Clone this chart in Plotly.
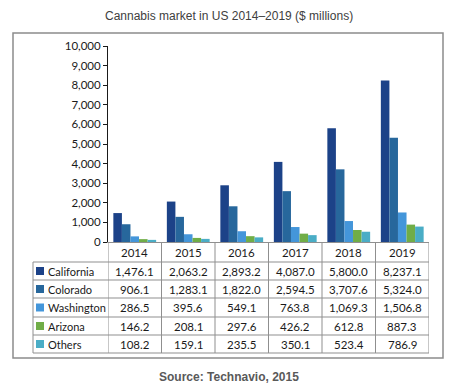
import plotly.graph_objects as go

W, H = 458, 392
years = ["2014", "2015", "2016", "2017", "2018", "2019"]
series_names = ["California", "Colorado", "Washington", "Arizona", "Others"]
california = [1476.1, 2063.2, 2893.2, 4087.0, 5800.0, 8237.1]
colorado = [906.1, 1283.1, 1822.0, 2594.5, 3707.6, 5324.0]
washington = [286.5, 395.6, 549.1, 763.8, 1069.3, 1506.8]
arizona = [146.2, 208.1, 297.6, 426.2, 612.8, 887.3]
others = [108.2, 159.1, 235.5, 350.1, 523.4, 786.9]
series_values = [california, colorado, washington, arizona, others]
colors = ["#1c4288", "#27679c", "#4496da", "#70ad47", "#4aadc6"]
y_ticks = list(range(0, 10001, 1000))

def px(x):
    return x / W

def py(y):
    return 1 - y / H

fig = go.Figure()
for name, vals, c in zip(series_names, series_values, colors):
    fig.add_trace(go.Bar(x=list(range(len(years))), y=vals, name=name, marker_color=c,
                         marker_line_width=0))

font = "Lato"
grid = "#8f8f8f"
shapes = []
annotations = []

# outer box
shapes.append(dict(type="rect", xref="paper", yref="paper", x0=px(13), x1=px(443),
                   y0=py(358), y1=py(33), line=dict(color="#8c8c8c", width=1.5)))

# table geometry
head_top, head_bot = 242, 262
row_bounds = [262, 280, 298, 317, 335, 353]
label_left = 33
for i, yb in enumerate(row_bounds):
    shapes.append(dict(type="line", xref="paper", yref="paper", x0=px(label_left), x1=px(429),
                       y0=py(yb), y1=py(yb), line=dict(color=grid, width=1)))
n = len(years)
for k in range(n + 1):
    xv = k - 0.5
    shapes.append(dict(type="line", xref="x", yref="paper", x0=xv, x1=xv,
                       y0=py(row_bounds[-1]), y1=py(head_top), line=dict(color=grid, width=1)))
shapes.append(dict(type="line", xref="paper", yref="paper", x0=px(label_left), x1=px(label_left),
                   y0=py(row_bounds[-1]), y1=py(row_bounds[0]), line=dict(color=grid, width=1)))

tfont = dict(family=font, size=11.5, color="#1a1a1a")
lfont = dict(family=font, size=11, color="#1a1a1a")
for j, y in enumerate(years):
    annotations.append(dict(x=j, y=py((head_top + head_bot) / 2), xref="x", yref="paper",
                            text=y, showarrow=False, font=tfont,
                            xanchor="center", yanchor="middle"))
for i, (name, vals, c) in enumerate(zip(series_names, series_values, colors)):
    yc = (row_bounds[i] + row_bounds[i + 1]) / 2
    shapes.append(dict(type="rect", xref="paper", yref="paper", x0=px(36), x1=px(44),
                       y0=py(yc + 4), y1=py(yc - 4), fillcolor=c, line=dict(width=0)))
    annotations.append(dict(x=px(45.5), y=py(yc), xref="paper", yref="paper", text=name,
                            showarrow=False, xanchor="left", yanchor="middle", font=lfont))
    for j, v in enumerate(vals):
        annotations.append(dict(x=j, y=py(yc), xref="x", yref="paper", text=f"{v:,.1f}",
                                showarrow=False, font=tfont,
                                xanchor="center", yanchor="middle"))

annotations.append(dict(x=0.5, y=py(16), xref="paper", yref="paper",
                        text="Cannabis market in US 2014–2019 ($ millions)", showarrow=False,
                        xanchor="center", yanchor="middle",
                        font=dict(family="Liberation Sans", size=12, color="#404040")))
annotations.append(dict(x=0.5, y=py(377), xref="paper", yref="paper",
                        text="<b>Source: Technavio, 2015</b>", showarrow=False,
                        xanchor="center", yanchor="middle",
                        font=dict(family="Liberation Sans", size=12, color="#595959")))

fig.update_layout(
    template="none",
    width=W, height=H, margin=dict(l=0, r=0, t=0, b=0, pad=0, autoexpand=False),
    paper_bgcolor="white", plot_bgcolor="white",
    barmode="group", bargap=0.2, bargroupgap=0,
    showlegend=False,
    xaxis=dict(domain=[px(108), px(429)], range=[-0.5, n - 0.5], showticklabels=False,
               showgrid=False, zeroline=False, showline=True, linecolor=grid, linewidth=1,
               ticks="", automargin=False),
    yaxis=dict(domain=[py(242), py(46)], range=[0, 10000], tickvals=y_ticks,
               tickformat=",", showgrid=False, zeroline=False, showline=True,
               linecolor="#1a1a1a", linewidth=1, ticks="outside", ticklen=4,
               tickcolor="#1a1a1a", automargin=False,
               tickfont=dict(family=font, size=11.5, color="#1a1a1a")),
    shapes=shapes, annotations=annotations,
)
fig.write_html("out.html", config={"displayModeBar": False},
               post_script="document.body.style.margin='0';")
